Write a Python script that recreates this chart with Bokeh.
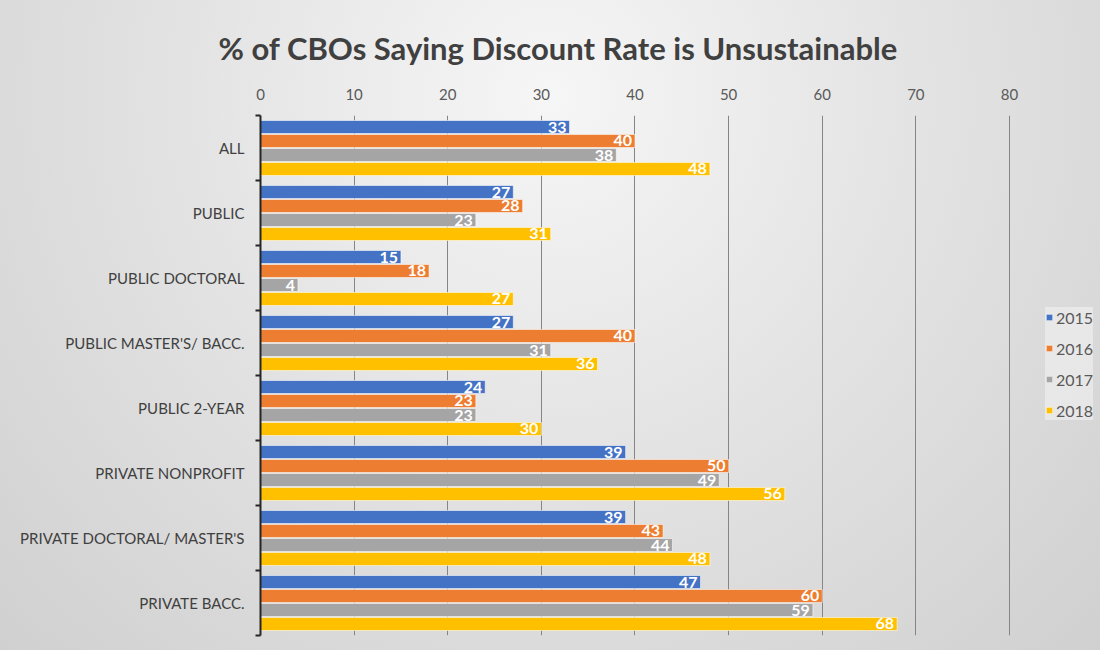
from bokeh.plotting import figure
from bokeh.models import Range1d, FixedTicker, ColumnDataSource, Legend, LegendItem
from bokeh.core.properties import value
from bokeh.embed import file_html
from bokeh.resources import INLINE

categories = ["ALL", "PUBLIC", "PUBLIC DOCTORAL", "PUBLIC MASTER'S/ BACC.", "PUBLIC 2-YEAR",
              "PRIVATE NONPROFIT", "PRIVATE DOCTORAL/ MASTER'S", "PRIVATE BACC."]
years = ["2015", "2016", "2017", "2018"]
v2015 = [33, 27, 15, 27, 24, 39, 39, 47]
v2016 = [40, 28, 18, 40, 23, 50, 43, 60]
v2017 = [38, 23, 4, 31, 23, 49, 44, 59]
v2018 = [48, 31, 27, 36, 30, 56, 48, 68]
x_ticks = [0, 10, 20, 30, 40, 50, 60, 70, 80]

series = [v2015, v2016, v2017, v2018]
colors = ["#4472C4", "#ED7D31", "#A5A5A5", "#FFC000"]
offsets = [-0.323, -0.108, 0.108, 0.323]
bar_h = 0.2

p = figure(width=1100, height=650, output_backend="svg", toolbar_location=None,
           x_range=Range1d(0, 89.72), y_range=Range1d(len(categories), 0),
           x_axis_location="above",
           min_border_left=260, min_border_right=0, min_border_top=115, min_border_bottom=15,
           title="% of CBOs Saying Discount Rate is Unsustainable")
p.background_fill_color = None
p.border_fill_color = None
p.outline_line_color = None
p.styles = {"background": "radial-gradient(ellipse at 50% 15%, #f6f6f6 0%, #e4e4e4 45%, #d0d0d0 100%)"}

p.title.text_font = "Lato"
p.title.text_font_size = "31px"
p.title.text_font_style = "bold"
p.title.text_color = "#404040"
p.title.align = "left"
p.title.offset = -42
p.title.standoff = 38

# x axis (top)
xa = p.xaxis[0]
xa.ticker = FixedTicker(ticks=x_ticks)
xa.axis_line_color = None
xa.major_tick_line_color = None
xa.minor_tick_line_color = None
xa.major_label_text_font = "Lato"
xa.major_label_text_font_size = "15px"
xa.major_label_text_color = "#595959"
xa.major_label_standoff = 10

# y axis (left)
ya = p.yaxis[0]
centers = [i + 0.5 for i in range(len(categories))]
ya.ticker = FixedTicker(ticks=centers, minor_ticks=list(range(len(categories) + 1)))
ya.major_label_overrides = {c: name for c, name in zip(centers, categories)}
ya.major_tick_line_color = None
ya.minor_tick_out = 5
ya.minor_tick_in = 0
ya.minor_tick_line_color = "#262626"
ya.minor_tick_line_width = 2
ya.axis_line_color = "#262626"
ya.axis_line_width = 2
ya.major_label_text_font = "Lato"
ya.major_label_text_font_size = "15px"
ya.major_label_text_color = "#404040"
ya.major_label_standoff = 10

p.ygrid.grid_line_color = None
p.xgrid.ticker = FixedTicker(ticks=x_ticks[1:])
p.xgrid.grid_line_color = "#858585"
p.xgrid.grid_line_width = 1

items = []
for yr, vals, col, off in zip(years, series, colors, offsets):
    src = ColumnDataSource(dict(y=[c + off for c in centers], v=vals, lab=[str(v) for v in vals]))
    r = p.hbar(y="y", left=0, right="v", height=bar_h, source=src, fill_color=col,
               line_color="white", line_alpha=0.55, line_width=1)
    p.text(x="v", y="y", text="lab", source=src, x_offset=-3, text_align="right",
           text_baseline="middle", text_color="white", text_font=value("Lato"),
           text_font_size="16px", text_font_style="bold")
    items.append(LegendItem(label=yr, renderers=[r]))

legend = Legend(items=items, location=(785, 215))
legend.glyph_width = 8
legend.glyph_height = 8
legend.label_standoff = 3
legend.label_height = 20
legend.spacing = 11
legend.padding = 8
legend.label_text_font = "Lato"
legend.label_text_font_size = "16px"
legend.label_text_color = "#595959"
legend.background_fill_color = "#ebebeb"
legend.background_fill_alpha = 0.8
legend.border_line_color = None
p.add_layout(legend, "center")

open("out.html", "w").write(file_html(p, INLINE))
